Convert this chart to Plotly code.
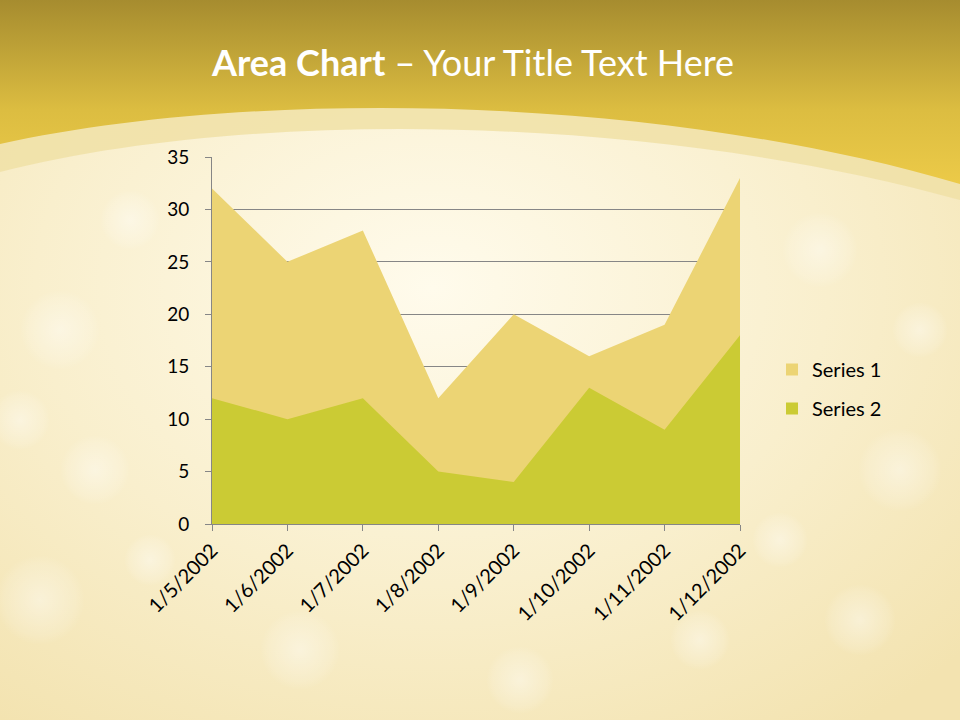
import base64
import plotly.graph_objects as go

categories = ["1/5/2002", "1/6/2002", "1/7/2002", "1/8/2002",
              "1/9/2002", "1/10/2002", "1/11/2002", "1/12/2002"]
series1 = [32, 25, 28, 12, 20, 16, 19, 33]
series2 = [12, 10, 12, 5, 4, 13, 9, 18]
series_names = ["Series 1", "Series 2"]
y_ticks = [0, 5, 10, 15, 20, 25, 30, 35]

C1 = "#ecd474"
C2 = "#cbcb34"
W, H = 960, 720
ML, MR, MT, MB = 212, 220, 157, 196
PW, PH = W - ML - MR, H - MT - MB

bokeh = [(60, 330, 40), (130, 220, 30), (95, 470, 35), (40, 600, 45), (820, 250, 38),
         (900, 470, 42), (860, 620, 36), (300, 650, 40), (520, 680, 34), (700, 640, 30),
         (20, 420, 30), (920, 330, 28), (150, 560, 26), (780, 540, 28)]
circles = "".join(
    f'<circle cx="{x}" cy="{y}" r="{r}" fill="url(#bk)"/>' for x, y, r in bokeh)

svg = f'''<svg xmlns="http://www.w3.org/2000/svg" width="{W}" height="{H}" viewBox="0 0 {W} {H}">
<defs>
<radialGradient id="bg" cx="0.45" cy="0.4" r="0.75">
<stop offset="0" stop-color="#fffbec"/>
<stop offset="0.55" stop-color="#f9efcd"/>
<stop offset="1" stop-color="#f3e3b0"/>
</radialGradient>
<linearGradient id="hd" x1="0" y1="0" x2="0" y2="1">
<stop offset="0" stop-color="#a68c2f"/>
<stop offset="0.6" stop-color="#dcbd41"/>
<stop offset="1" stop-color="#ecca48"/>
</linearGradient>
<radialGradient id="bk"><stop offset="0" stop-color="#ffffff" stop-opacity="0.4"/>
<stop offset="0.8" stop-color="#ffffff" stop-opacity="0.12"/>
<stop offset="1" stop-color="#ffffff" stop-opacity="0"/></radialGradient>
</defs>
<rect width="{W}" height="{H}" fill="url(#bg)"/>
{circles}
<path d="M0,0 H960 V200 C650,114 250,108 0,172 Z" fill="#f0e1a6" opacity="0.85"/>
<path d="M0,0 H960 V184 C650,93 250,89 0,144 Z" fill="url(#hd)"/>
</svg>'''
src = "data:image/svg+xml;base64," + base64.b64encode(svg.encode()).decode()

fig = go.Figure()
fig.add_trace(go.Scatter(x=categories, y=series1, name=series_names[0], mode="lines",
                         line=dict(width=0, color=C1), fill="tozeroy", fillcolor=C1,
                         showlegend=False, hoverinfo="x+y"))
fig.add_trace(go.Scatter(x=categories, y=series2, name=series_names[1], mode="lines",
                         line=dict(width=0, color=C2), fill="tozeroy", fillcolor=C2,
                         showlegend=False, hoverinfo="x+y"))
for nm, col in zip(series_names, [C1, C2]):
    fig.add_trace(go.Scatter(x=[None], y=[None], name=nm, mode="markers", legendgroup=nm,
                             marker=dict(symbol="square", size=15, color=col)))

fig.update_layout(
    width=W, height=H,
    margin=dict(l=ML, r=MR, t=MT, b=MB),
    paper_bgcolor="rgba(0,0,0,0)",
    plot_bgcolor="rgba(0,0,0,0)",
    font=dict(family="Lato, Open Sans, sans-serif", color="#000000", size=19),
    images=[dict(source=src, xref="paper", yref="paper",
                 x=-ML / PW, y=1 + MT / PH, sizex=W / PW, sizey=H / PH,
                 xanchor="left", yanchor="top", sizing="stretch", layer="below")],
    annotations=[dict(text="<b>Area Chart</b> – Your Title Text Here",
                      xref="paper", yref="paper", x=(472 - ML) / PW, y=1 + (MT - 62) / PH,
                      xanchor="center", yanchor="middle", showarrow=False,
                      font=dict(family="Lato, Open Sans, sans-serif", size=36, color="#ffffff"))],
    legend=dict(x=(772 - ML) / PW, y=(524 - 350) / PH, xanchor="left", yanchor="top",
                bgcolor="rgba(0,0,0,0)", font=dict(size=20, color="#000000"),
                traceorder="grouped", tracegroupgap=10, itemsizing="constant",
                itemwidth=30),
    showlegend=True,
)
fig.update_xaxes(type="category", range=[0, len(categories) - 1],
                 showgrid=False, showline=True, linecolor="#868686", linewidth=1,
                 ticks="outside", ticklen=6, tickcolor="#868686", tickangle=-45,
                 tickfont=dict(size=20), zeroline=False)
fig.update_yaxes(range=[0, 35], tickvals=y_ticks, showgrid=True, gridcolor="#868686",
                 gridwidth=1, showline=True, linecolor="#868686", linewidth=1,
                 ticks="outside", ticklen=6, tickcolor="#868686", ticklabelstandoff=12,
                 tickfont=dict(size=19), zeroline=False)

fig.write_html("out.html", config={"displayModeBar": False},
               post_script="document.body.style.margin='0';")
